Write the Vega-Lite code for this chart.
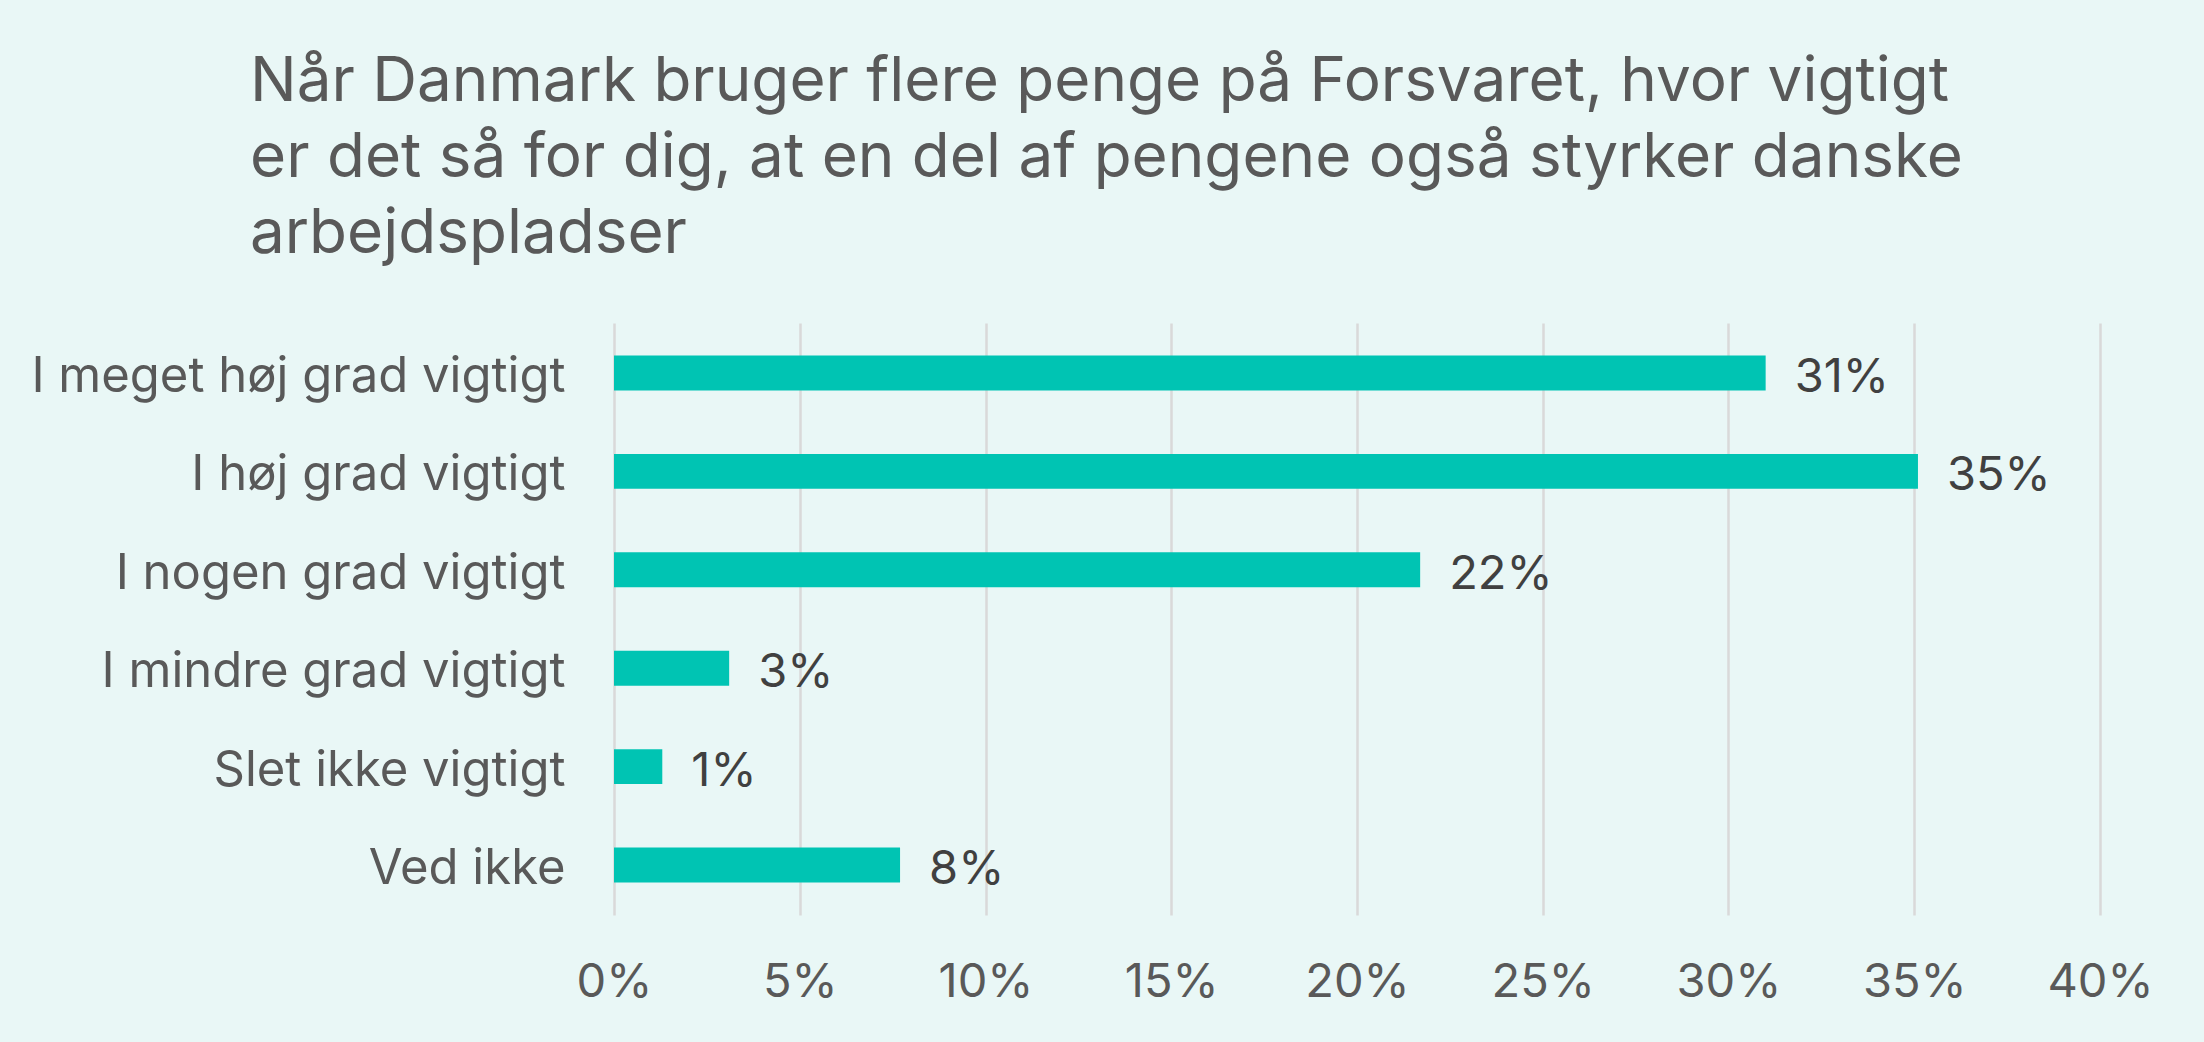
{
  "$schema": "https://vega.github.io/schema/vega-lite/v6.json",
  "width": 1486,
  "height": 592,
  "autosize": {"type": "none"},
  "padding": {"left": 614, "top": 323, "right": 104, "bottom": 127},
  "background": "#E9F7F6",
  "title": {
    "text": ["Når Danmark bruger flere penge på Forsvaret, hvor vigtigt", "er det så for dig, at en del af pengene også styrker danske", "arbejdspladser"],
    "anchor": "start",
    "frame": "group",
    "dx": -364,
    "offset": 57,
    "font": "Inter",
    "fontSize": 62,
    "fontWeight": "normal",
    "color": "#595959",
    "lineHeight": 76
  },
  "data": {
    "values": [
      {"svar": "I meget høj grad vigtigt", "andel": 0.310},
      {"svar": "I høj grad vigtigt", "andel": 0.351},
      {"svar": "I nogen grad vigtigt", "andel": 0.217},
      {"svar": "I mindre grad vigtigt", "andel": 0.031},
      {"svar": "Slet ikke vigtigt", "andel": 0.013},
      {"svar": "Ved ikke", "andel": 0.077}
    ]
  },
  "config": {
    "view": {"stroke": null},
    "font": "Inter"
  },
  "encoding": {
    "y": {
      "field": "svar",
      "type": "nominal",
      "sort": null,
      "scale": {"paddingInner": 0.645, "paddingOuter": 0.33},
      "axis": {
        "title": null,
        "domain": false,
        "ticks": false,
        "grid": false,
        "labelFont": "Inter",
        "labelFontSize": 49,
        "labelColor": "#595959",
        "labelPadding": 49,
        "labelOffset": 4,
        "labelLimit": 800
      }
    },
    "x": {
      "field": "andel",
      "type": "quantitative",
      "scale": {"domain": [0, 0.4], "nice": false},
      "axis": {
        "title": null,
        "format": ".0%",
        "values": [0, 0.05, 0.1, 0.15, 0.2, 0.25, 0.3, 0.35, 0.4],
        "domain": false,
        "ticks": false,
        "grid": true,
        "gridColor": "#D9D9D9",
        "gridWidth": 2.5,
        "labelFont": "Inter",
        "labelFontSize": 47,
        "labelColor": "#595959",
        "labelPadding": 44,
        "labelFlush": false
      }
    }
  },
  "layer": [
    {"mark": {"type": "bar", "color": "#00C4B3"}},
    {
      "mark": {"type": "text", "align": "left", "baseline": "middle", "dx": 29, "dy": 5, "font": "Inter", "fontSize": 47, "color": "#404040"},
      "encoding": {"text": {"field": "andel", "type": "quantitative", "format": ".0%"}}
    }
  ]
}
